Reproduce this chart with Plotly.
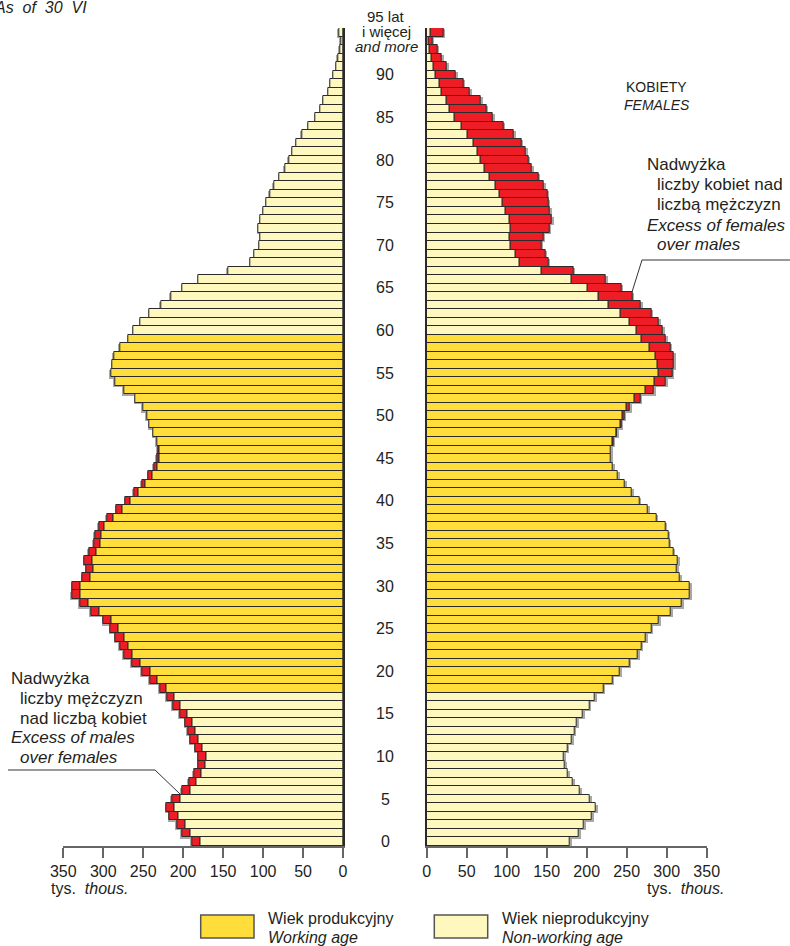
import plotly.graph_objects as go

# ---------------- data (thousands) ----------------
ages = list(range(96))  # 95 = "95 lat i więcej"
males = [
    188.8, 201.3, 207.5, 217.1, 220.9, 213.8, 201.3, 192.5, 186.3, 180.9,
    180.5, 184.6, 190.5, 193.8, 197.1, 204.2, 212.5, 220.0, 229.2, 241.7,
    251.3, 263.8, 274.2, 279.0, 284.6, 290.9, 299.6, 315.0, 329.2, 339.2,
    338.4, 325.9, 320.9, 323.4, 318.0, 311.7, 310.5, 305.5, 295.0, 283.4,
    272.0, 261.7, 251.7, 243.4, 236.7, 232.5, 231.5, 233.0, 237.0, 242.0,
    245.0, 250.0, 259.6, 273.8, 285.4, 290.0, 288.3, 286.7, 279.2, 268.5,
    262.0, 253.3, 242.0, 227.5, 215.4, 200.8, 180.8, 144.0, 115.8, 110.8,
    104.6, 103.3, 105.4, 103.3, 99.2, 95.5, 91.3, 86.3, 79.2, 72.3,
    67.5, 63.3, 58.3, 51.0, 43.2, 34.4, 28.3, 24.4, 18.2, 15.8,
    11.7, 8.3, 6.2, 3.8, 2.5, 5.2,
]
females = [
    178.8, 190.5, 196.8, 206.7, 211.3, 203.8, 191.5, 183.0, 176.7, 172.8,
    171.5, 175.7, 181.5, 184.8, 188.0, 195.0, 203.3, 210.5, 220.8, 232.0,
    241.3, 253.3, 264.0, 268.3, 274.2, 281.0, 290.5, 305.5, 319.3, 329.2,
    329.0, 316.5, 313.0, 314.2, 308.4, 303.2, 302.3, 298.2, 287.0, 276.3,
    265.8, 256.3, 247.7, 239.2, 233.0, 230.4, 230.4, 233.3, 237.5, 243.3,
    247.0, 253.8, 267.1, 284.2, 298.8, 307.0, 308.8, 308.8, 304.6, 298.8,
    295.0, 290.0, 280.8, 267.5, 257.1, 243.3, 224.2, 183.3, 152.0, 148.3,
    143.3, 145.8, 153.3, 156.3, 154.2, 152.0, 150.8, 146.7, 139.6, 131.3,
    127.1, 123.8, 118.3, 108.8, 95.8, 82.5, 74.6, 67.5, 54.2, 45.8,
    36.3, 25.0, 18.8, 13.3, 7.1, 20.8,
]
working_age = (18, 59)
tick_vals = [0, 50, 100, 150, 200, 250, 300, 350]
age_labels = list(range(0, 95, 5))

# ---------------- style ----------------
GOLD = "#FFDD3A"
LIGHT = "#FFF8BE"
RED = "#EE1C25"
OUT = "#2a2a2a"
SHADOW = "#a8a8a8"
AX = "#666666"
TXT = "#231f20"
FONT = "Liberation Sans, Arial, Helvetica, sans-serif"

W, H = 790, 946
T, B = 28, 100
PB = H - B  # plot bottom in px
UNIT_PX = 0.8            # px per thousand on x
ROW_PX = (PB - T) / 96   # px per age row


def px(x):
    return x / W


def py(y):
    return (PB - y) / (PB - T)


base = [min(m, f) for m, f in zip(males, females)]
m_exc = [(m - f) if m - f > 0.3 else None for m, f in zip(males, females)]
f_exc = [(f - m) if f - m > 0.3 else None for m, f in zip(males, females)]
colors = [GOLD if working_age[0] <= a <= working_age[1] else LIGHT for a in ages]

sh_dx = 1.5 / UNIT_PX
sh_dy = 1.2 / ROW_PX

fig = go.Figure()
for xa, ya, tot, exc in (("x", "y", males, m_exc), ("x2", "y2", females, f_exc)):
    # soft drop shadow
    fig.add_trace(go.Bar(
        y=[a - sh_dy for a in ages], x=[v + sh_dx for v in tot], orientation="h",
        xaxis=xa, yaxis=ya, width=1, marker=dict(color=SHADOW, line=dict(width=0)),
        showlegend=False, hoverinfo="skip"))
    fig.add_trace(go.Bar(
        y=ages, x=base, orientation="h", xaxis=xa, yaxis=ya, width=1,
        marker=dict(color=colors, line=dict(color=OUT, width=1)),
        showlegend=False, hoverinfo="x+y"))
    fig.add_trace(go.Bar(
        y=ages, x=exc, base=base, orientation="h", xaxis=xa, yaxis=ya, width=1,
        marker=dict(color=RED, line=dict(color=OUT, width=1)),
        showlegend=False, hoverinfo="x+y"))

xcommon = dict(
    tickvals=tick_vals, ticks="outside", ticklen=10, tickwidth=1.5, tickcolor=AX,
    showline=True, linecolor=AX, linewidth=2, showgrid=False, zeroline=False,
    tickfont=dict(size=16, color=TXT, family=FONT), ticklabelstandoff=0,
    fixedrange=True, automargin=False,
)
ycommon = dict(
    range=[-0.5, 95.5], showticklabels=False, ticks="", showgrid=False,
    zeroline=False, showline=True, linecolor=OUT, linewidth=1.5, fixedrange=True,
    automargin=False,
)

fig.update_layout(
    width=W, height=H, autosize=False, margin=dict(l=0, r=0, t=T, b=B, pad=0),
    paper_bgcolor="white", plot_bgcolor="white",
    barmode="overlay", bargap=0,
    font=dict(family=FONT, color=TXT, size=16),
    xaxis=dict(domain=[px(63.3), px(343)], range=[350, 0], anchor="y", **xcommon),
    xaxis2=dict(domain=[px(426.7), px(706.7)], range=[0, 350], anchor="y2", **xcommon),
    yaxis=dict(anchor="x", side="right", **ycommon),
    yaxis2=dict(anchor="x2", side="left", matches="y", **ycommon),
)

ann = []


def text(x, y, s, size=16, xanchor="left", italic=False):
    if italic:
        s = "<i>" + s + "</i>"
    ann.append(dict(x=px(x), y=py(y), xref="paper", yref="paper", text=s,
                    showarrow=False, xanchor=xanchor, yanchor="middle",
                    font=dict(size=size, color=TXT, family=FONT)))


# age labels
for a in age_labels:
    ann.append(dict(x=px(385), y=a, xref="paper", yref="y", text=str(a),
                    showarrow=False, xanchor="center", yanchor="middle",
                    font=dict(size=16, color=TXT, family=FONT)))
text(386, 16, "95 lat", 15, "center")
text(386, 31.5, "i więcej", 15, "center")
text(386, 46.5, "and more", 15, "center", italic=True)

text(89, 7, "As&nbsp;&nbsp;of&nbsp;&nbsp;30&nbsp;&nbsp;VI", 16, "right", italic=True)

text(656.5, 87, "KOBIETY", 14, "center")
text(656.5, 105, "FEMALES", 14, "center", italic=True)

# excess of females
text(645, 164, "Nadwyżka", 17)
text(655, 184, "liczby kobiet nad", 17)
text(655, 204, "liczbą mężczyzn", 17)
text(645, 225, "Excess of females", 17, italic=True)
text(655, 244, "over males", 17, italic=True)

# excess of males
text(9, 678, "Nadwyżka", 17)
text(17.5, 698, "liczby mężczyzn", 17)
text(17.5, 718, "nad liczbą kobiet", 17)
text(8.5, 737.5, "Excess of males", 17, italic=True)
text(17.5, 757.5, "over females", 17, italic=True)

# units
text(49, 888, "tys.&nbsp;&nbsp;<i>thous.</i>", 16, "left")
text(726, 888, "tys.&nbsp;&nbsp;<i>thous.</i>", 16, "right")

# legend texts
text(266, 919, "Wiek produkcyjny", 16)
text(266, 937, "Working age", 16, italic=True)
text(500, 919, "Wiek nieprodukcyjny", 16)
text(500, 937, "Non-working age", 16, italic=True)

shapes = []


def rect(x0, y0, x1, y1, fill):
    shapes.append(dict(type="rect", xref="paper", yref="paper",
                       x0=px(x0), x1=px(x1), y0=py(y1), y1=py(y0),
                       fillcolor=fill, line=dict(color="#555555", width=1.5)))


def polyline(pts):
    path = "M " + " L ".join(f"{px(x):.5f},{py(y):.5f}" for x, y in pts)
    shapes.append(dict(type="path", xref="paper", yref="paper", path=path,
                       line=dict(color="#333333", width=1)))


rect(200.7, 915, 254, 938, GOLD)
rect(434.3, 915, 487.7, 938, LIGHT)
polyline([(790, 260), (642, 260), (632, 292)])
polyline([(8, 770), (155, 770), (180, 794)])

fig.update_layout(annotations=ann, shapes=shapes)
fig.write_html(
    "out.html",
    config={"displayModeBar": False, "responsive": False},
    post_script="document.body.style.margin='0';document.body.style.overflow='hidden';",
)
